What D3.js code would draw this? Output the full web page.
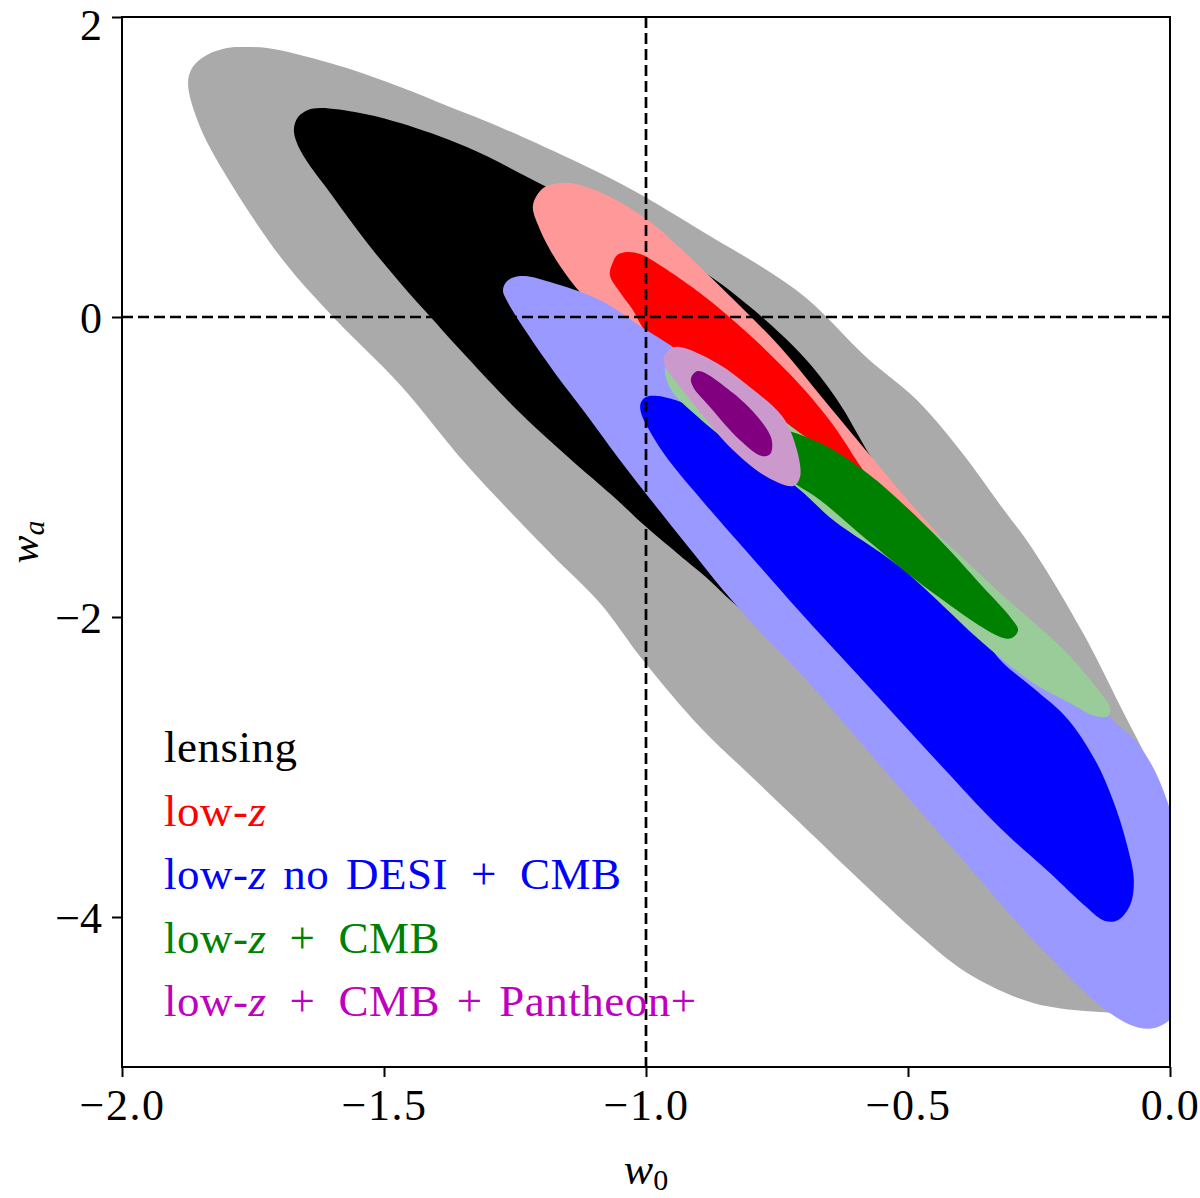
<!DOCTYPE html>
<html>
<head>
<meta charset="utf-8">
<script src="https://cdn.jsdelivr.net/npm/d3@7"></script>
<style>
  html, body { margin: 0; padding: 0; background: #fff; }
  svg { display: block; }
  text { font-family: "Liberation Serif", "Times New Roman", serif; }
</style>
</head>
<body>
<div id="chart"></div>
<script>
// ---------------- DATA: (w0, wa) contour outlines ----------------
const xTicks = [-2.0, -1.5, -1.0, -0.5, 0.0];
const yTicks = [2, 0, -2, -4];
const xDomain = [-2.0, 0.0];
const yDomain = [-5.0, 2.0];

// lensing (2 sigma, 1 sigma)
const lensing95 = [
  [-1.874,1.560],[-1.865,1.667],[-1.838,1.747],[-1.800,1.793],[-1.769,1.800],[-1.723,1.793],
  [-1.660,1.747],[-1.565,1.653],[-1.469,1.533],[-1.374,1.400],[-1.279,1.267],[-1.088,0.960],
  [-1.002,0.800],[-0.897,0.580],[-0.706,0.160],[-0.578,-0.273],[-0.483,-0.553],[-0.401,-0.887],
  [-0.324,-1.253],[-0.261,-1.553],[-0.166,-2.107],[-0.101,-2.553],[-0.019,-3.153],[0.019,-3.753],
  [0.023,-4.287],[-0.010,-4.553],[-0.076,-4.633],[-0.134,-4.633],[-0.261,-4.573],[-0.387,-4.373],
  [-0.483,-4.107],[-0.578,-3.800],[-0.706,-3.373],[-0.802,-3.053],[-0.897,-2.733],[-1.006,-2.287],
  [-1.088,-1.907],[-1.183,-1.573],[-1.342,-0.987],[-1.469,-0.453],[-1.597,0.000],[-1.693,0.380],
  [-1.788,0.867],[-1.851,1.267]
];
const lensing68 = [
  [-1.672,1.247],[-1.664,1.333],[-1.645,1.380],[-1.622,1.393],[-1.546,1.360],[-1.469,1.293],
  [-1.342,1.133],[-1.197,0.880],[-1.088,0.680],[-0.935,0.400],[-0.834,0.160],[-0.706,-0.240],
  [-0.635,-0.553],[-0.573,-0.920],[-0.529,-1.153],[-0.553,-1.253],[-0.706,-1.320],[-0.763,-1.653],
  [-0.782,-2.007],[-0.897,-1.700],[-0.941,-1.573],[-1.006,-1.380],[-1.055,-1.220],[-1.151,-0.927],
  [-1.246,-0.620],[-1.342,-0.267],[-1.406,-0.020],[-1.469,0.227],[-1.532,0.493],[-1.597,0.800],
  [-1.660,1.113]
];
// low-z
const lowz95 = [
  [-1.216,0.733],[-1.208,0.813],[-1.193,0.867],[-1.174,0.887],[-1.145,0.893],[-1.088,0.833],
  [-1.002,0.660],[-0.935,0.460],[-0.834,0.120],[-0.744,-0.200],[-0.668,-0.520],[-0.573,-0.920],
  [-0.496,-1.240],[-0.433,-1.487],[-0.391,-1.687],[-0.458,-1.673],[-0.553,-1.420],[-0.706,-1.033],
  [-0.840,-0.700],[-0.935,-0.420],[-1.011,-0.187],[-1.097,0.060],[-1.145,0.247],[-1.183,0.447],
  [-1.206,0.613]
];
const lowz68 = [
  [-1.063,0.367],[-1.055,0.413],[-1.036,0.433],[-1.011,0.420],[-0.989,0.380],[-0.897,0.160],
  [-0.802,-0.120],[-0.706,-0.453],[-0.643,-0.720],[-0.586,-1.020],[-0.544,-1.220],[-0.592,-1.220],
  [-0.706,-0.967],[-0.821,-0.720],[-0.916,-0.453],[-0.973,-0.220],[-1.006,-0.073],[-1.025,0.047],
  [-1.050,0.167],[-1.069,0.280]
];
// low-z no DESI + CMB
const noDesi95 = [
  [-1.273,0.180],[-1.265,0.240],[-1.250,0.267],[-1.231,0.273],[-1.183,0.233],[-1.088,0.113],
  [-1.006,-0.073],[-0.960,-0.173],[-0.821,-0.520],[-0.687,-0.887],[-0.515,-1.387],[-0.324,-1.987],
  [-0.197,-2.333],[-0.143,-2.553],[-0.105,-2.700],[-0.067,-2.820],[-0.038,-2.967],[-0.013,-3.153],
  [0.010,-3.420],[0.023,-3.887],[0.023,-4.420],[0.008,-4.653],[-0.023,-4.733],[-0.057,-4.740],
  [-0.115,-4.640],[-0.261,-4.153],[-0.382,-3.673],[-0.496,-3.220],[-0.601,-2.793],[-0.706,-2.373],
  [-0.782,-2.100],[-0.853,-1.820],[-0.916,-1.547],[-0.983,-1.253],[-1.050,-0.953],[-1.116,-0.640],
  [-1.174,-0.373],[-1.227,-0.107],[-1.263,0.093]
];
const noDesi68 = [
  [-1.010,-0.573],[-1.000,-0.533],[-0.977,-0.527],[-0.929,-0.573],[-0.884,-0.653],
  [-0.782,-0.920],[-0.643,-1.253],[-0.515,-1.567],[-0.372,-2.053],[-0.324,-2.287],[-0.261,-2.473],
  [-0.197,-2.673],[-0.143,-2.953],[-0.109,-3.220],[-0.082,-3.520],[-0.069,-3.753],[-0.076,-3.920],
  [-0.099,-4.020],[-0.124,-4.027],[-0.162,-3.927],[-0.229,-3.707],[-0.324,-3.407],[-0.452,-2.933],
  [-0.578,-2.453],[-0.706,-1.967],[-0.802,-1.587],[-0.897,-1.207],[-0.964,-0.920],[-0.996,-0.740],
  [-1.010,-0.633]
];
// low-z + CMB
const cmb95 = [
  [-0.958,-0.273],[-0.964,-0.353],[-0.952,-0.487],[-0.903,-0.660],[-0.834,-0.853],[-0.769,-0.987],
  [-0.706,-1.153],[-0.643,-1.353],[-0.515,-1.667],[-0.357,-2.173],[-0.261,-2.440],[-0.191,-2.573],
  [-0.143,-2.660],[-0.118,-2.660],[-0.115,-2.600],[-0.134,-2.500],[-0.197,-2.240],[-0.324,-1.840],
  [-0.433,-1.487],[-0.578,-1.067],[-0.706,-0.773],[-0.769,-0.607],[-0.834,-0.453],[-0.897,-0.327],
  [-0.935,-0.260]
];
const cmb68 = [
  [-0.773,-0.820],[-0.750,-0.753],[-0.668,-0.840],[-0.578,-1.040],[-0.452,-1.440],[-0.357,-1.800],
  [-0.305,-2.000],[-0.290,-2.087],[-0.302,-2.140],[-0.324,-2.133],[-0.452,-1.840],[-0.578,-1.487],
  [-0.668,-1.220],[-0.725,-1.087],[-0.760,-0.967]
];
// low-z + CMB + Pantheon+
const pan95 = [
  [-0.966,-0.273],[-0.954,-0.213],[-0.935,-0.200],[-0.865,-0.307],[-0.802,-0.467],[-0.739,-0.667],
  [-0.712,-0.887],[-0.706,-1.067],[-0.719,-1.127],[-0.769,-1.067],[-0.834,-0.887],[-0.897,-0.633],
  [-0.945,-0.420],[-0.964,-0.327]
];
const pan68 = [
  [-0.914,-0.407],[-0.901,-0.360],[-0.834,-0.507],[-0.782,-0.687],[-0.760,-0.820],[-0.763,-0.913],
  [-0.779,-0.927],[-0.821,-0.820],[-0.878,-0.600],[-0.910,-0.467]
];

const contours = [
  {name: "lensing", data: lensing95, color: "#aaaaaa"},
  {name: "lensing", data: lensing68, color: "#000000"},
  {name: "low-z", data: lowz95, color: "#ff9999"},
  {name: "low-z", data: lowz68, color: "#ff0000"},
  {name: "noDESI", data: noDesi95, color: "#9999ff"},
  {name: "noDESI", data: noDesi68, color: "#0000ff"},
  {name: "cmb", data: cmb95, color: "#99cc99"},
  {name: "cmb", data: cmb68, color: "#008000"},
  {name: "pantheon", data: pan95, color: "#cc99cc"},
  {name: "pantheon", data: pan68, color: "#800080"}
];

// legend labels: [text, italic]; en-spaces around binary "+" as in the typeset original
const legendLabels = [
  [["lensing", false]],
  [["low-", false], ["z", true]],
  [["low-", false], ["z", true], [" no DESI\u2002+\u2002CMB", false]],
  [["low-", false], ["z", true], ["\u2002+\u2002CMB", false]],
  [["low-", false], ["z", true], ["\u2002+\u2002CMB + Pantheon+", false]]
];
const legendColors = ["#000000", "#ff0000", "#0000ff", "#008000", "#bf00bf"];

// ---------------- LAYOUT ----------------
const W = 1200, H = 1198;
const m = {left: 122, top: 17, right: 30, bottom: 131};
const iw = W - m.left - m.right, ih = H - m.top - m.bottom;

const svg = d3.select("#chart").append("svg").attr("width", W).attr("height", H);
const x = d3.scaleLinear().domain(xDomain).range([0, iw]);
const y = d3.scaleLinear().domain(yDomain).range([ih, 0]);

const g = svg.append("g").attr("transform", `translate(${m.left},${m.top})`);
g.append("clipPath").attr("id", "clip").append("rect").attr("width", iw).attr("height", ih);

const plot = g.append("g").attr("clip-path", "url(#clip)");
const line = d3.line().x(d => x(d[0])).y(d => y(d[1])).curve(d3.curveCatmullRomClosed.alpha(0.5));

plot.selectAll("path.contour").data(contours).join("path")
  .attr("class", "contour")
  .attr("d", d => line(d.data))
  .attr("fill", d => d.color)
  .attr("stroke", "none");

// reference dashed lines
plot.append("line").attr("x1", x(-1)).attr("x2", x(-1)).attr("y1", 0).attr("y2", ih)
  .attr("stroke", "#000").attr("stroke-width", 2.7).attr("stroke-dasharray", "11,5");
plot.append("line").attr("x1", 0).attr("x2", iw).attr("y1", y(0)).attr("y2", y(0))
  .attr("stroke", "#000").attr("stroke-width", 2.7).attr("stroke-dasharray", "11,5");

// axes
const fmtX = d => d3.format(".1f")(d).replace("-", "\u2212");
const fmtY = d => d3.format("d")(d).replace("-", "\u2212");
const xAxis = g.append("g").attr("transform", `translate(0,${ih})`)
  .call(d3.axisBottom(x).tickValues(xTicks).tickFormat(fmtX).tickSize(10).tickPadding(10));
const yAxis = g.append("g")
  .call(d3.axisLeft(y).tickValues(yTicks).tickFormat(fmtY).tickSize(10).tickPadding(10));
[xAxis, yAxis].forEach(a => {
  a.select(".domain").remove();
  a.selectAll("line").attr("stroke", "#000").attr("stroke-width", 2);
  a.selectAll("text").attr("font-size", 44).attr("fill", "#000")
    .style("font-family", "'Liberation Serif', serif");
});
xAxis.selectAll("text").attr("dy", "0.75em").style("letter-spacing", "1.5px");
yAxis.selectAll("text").attr("dy", d => d === 2 ? "0.5em" : "0.35em");

// frame
g.append("rect").attr("width", iw).attr("height", ih)
  .attr("fill", "none").attr("stroke", "#000").attr("stroke-width", 2);

// axis labels
const xl = svg.append("text").attr("x", m.left + x(-1)).attr("y", 1184)
  .attr("text-anchor", "middle").attr("font-size", 44);
xl.append("tspan").attr("font-style", "italic").text("w");
xl.append("tspan").attr("font-size", 30).attr("dy", 6).text("0");

const yl = svg.append("text")
  .attr("transform", `translate(38,${m.top + ih / 2}) rotate(-90)`)
  .attr("text-anchor", "middle").attr("font-size", 42);
yl.append("tspan").attr("font-style", "italic").text("w");
yl.append("tspan").attr("font-style", "italic").attr("font-size", 30).attr("dy", 6).text("a");

// legend (text-only, coloured)
const leg = svg.append("g");
legendLabels.forEach((parts, i) => {
  const t = leg.append("text").attr("x", 164).attr("y", 762 + i * 63.5)
    .attr("font-size", 45).attr("fill", legendColors[i])
    .style("word-spacing", "5px").style("letter-spacing", "0.5px");
  parts.forEach(p => {
    t.append("tspan").attr("font-style", p[1] ? "italic" : "normal").text(p[0]);
  });
});
</script>
</body>
</html>
